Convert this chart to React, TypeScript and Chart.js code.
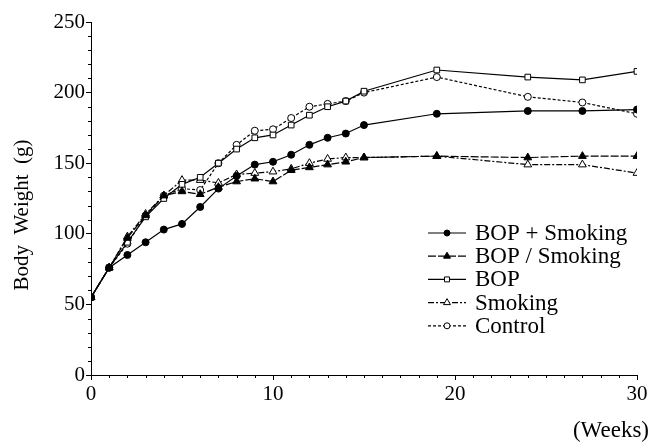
import React, { useEffect, useRef } from 'react';
import { Chart, registerables } from 'chart.js';
import { drawPoint } from 'chart.js/helpers';

Chart.register(...registerables);

// ---- data ----
const weeks = [0, 1, 2, 3, 4, 5, 6, 7, 8, 9, 10, 11, 12, 13, 14, 15, 19, 24, 27, 30];
const bopPlusSmoking = [55, 76, 85, 94, 103, 107, 119, 132, 141, 149, 151, 156, 163, 168, 171, 177, 185, 187, 187, 188];
const bopSlashSmoking = [55, 76, 97, 113, 127, 130, 128, 133, 137, 139, 137, 145, 147, 149, 151, 154, 155, 154, 155, 155];
const bopOnly = [55, 76, 94, 112, 125, 135, 140, 150, 160, 168, 170, 177, 184, 190, 194, 201, 216, 211, 209, 215];
const smokingOnly = [55, 76, 98, 114, 127, 138, 138, 136, 142, 143, 144, 146, 150, 153, 154, 154, 155, 149, 149, 143];
const control = [55, 76, 93, 113, 127, 132, 131, 150, 163, 173, 174, 182, 190, 192, 194, 200, 211, 197, 193, 185];

const seriesNames = ['BOP + Smoking', 'BOP / Smoking', 'BOP', 'Smoking', 'Control'];
const seriesValues = [bopPlusSmoking, bopSlashSmoking, bopOnly, smokingOnly, control];

const xTickValues = [0, 10, 20, 30];
const yTickValues = [0, 50, 100, 150, 200, 250];
const xTitle = '(Weeks)';
const yTitle = 'Body  Weight  (g)';

// ---- styles ----
const FONT = "'Liberation Serif', 'Times New Roman', Times, serif";
const FONT_SIZE = 21;
const LEGEND_FONT_SIZE = 23;
const XTITLE_FONT_SIZE = 23;
const pointStyles = ['circle', 'triangle', 'rect', 'triangle', 'circle'];
const pointFills = ['#000', '#000', '#fff', '#fff', '#fff'];
const pointRadii = [3.5, 4.5, 4, 4.5, 3.5];
const dashes = [[], [8, 2], [], [6, 2, 2, 2], [3, 2]];

const decorPlugin = {
  id: 'decor',
  afterDraw(chart: any) {
    const { ctx, chartArea } = chart;
    const x = chart.scales.x;
    const y = chart.scales.y;
    ctx.save();
    ctx.strokeStyle = '#000';
    ctx.lineWidth = 1;
    // minor ticks
    for (let w = 0; w <= 30; w++) {
      if (w % 10 === 0) continue;
      const px = Math.round(x.getPixelForValue(w)) + 0.5;
      ctx.beginPath();
      ctx.moveTo(px, chartArea.bottom);
      ctx.lineTo(px, chartArea.bottom + 3);
      ctx.stroke();
    }
    for (let g = 0; g <= 250; g += 10) {
      if (g % 50 === 0) continue;
      const py = Math.round(y.getPixelForValue(g)) + 0.5;
      ctx.beginPath();
      ctx.moveTo(chartArea.left, py);
      ctx.lineTo(chartArea.left - 3, py);
      ctx.stroke();
    }
    // axis titles
    ctx.fillStyle = '#000';
    ctx.font = `${XTITLE_FONT_SIZE}px ${FONT}`;
    ctx.textAlign = 'right';
    ctx.textBaseline = 'middle';
    ctx.fillText(xTitle, 649, 431);
    ctx.font = `${FONT_SIZE}px ${FONT}`;
    ctx.save();
    ctx.translate(22, 215);
    ctx.rotate(-Math.PI / 2);
    ctx.textAlign = 'center';
    ctx.fillText(yTitle, 0, 0);
    ctx.restore();
    // legend
    const rowY0 = 233;
    const rowGap = 23.2;
    ctx.font = `${LEGEND_FONT_SIZE}px ${FONT}`;
    seriesNames.forEach((name, i) => {
      const ry = rowY0 + i * rowGap;
      ctx.setLineDash(dashes[i]);
      ctx.lineWidth = 1.2;
      ctx.strokeStyle = '#000';
      ctx.beginPath();
      ctx.moveTo(428, ry);
      ctx.lineTo(466, ry);
      ctx.stroke();
      ctx.setLineDash([]);
      ctx.fillStyle = pointFills[i];
      ctx.lineWidth = 1;
      drawPoint(ctx, { pointStyle: pointStyles[i], radius: pointRadii[i] - 0.5, rotation: 0, borderWidth: 1 }, 447, ry);
      ctx.fillStyle = '#000';
      ctx.textAlign = 'left';
      ctx.textBaseline = 'middle';
      ctx.fillText(name, 475, ry + 1);
    });
    ctx.restore();
  },
};

export default function App() {
  const canvasRef = useRef<HTMLCanvasElement>(null);

  useEffect(() => {
    const canvas = canvasRef.current;
    if (!canvas) return;
    const datasets = seriesNames.map((name, i) => ({
      label: name,
      data: weeks.map((w, k) => ({ x: w, y: seriesValues[i][k] })),
      borderColor: '#000',
      borderWidth: 1.2,
      borderDash: dashes[i],
      pointStyle: pointStyles[i],
      pointRadius: pointRadii[i],
      pointBackgroundColor: pointFills[i],
      pointBorderColor: '#000',
      pointBorderWidth: 1,
      fill: false,
      tension: 0,
    }));
    const chart = new Chart(canvas, {
      type: 'line',
      data: { datasets },
      plugins: [decorPlugin],
      options: {
        animation: false,
        responsive: false,
        devicePixelRatio: 1,
        layout: { padding: { top: 22, right: 19, left: 0, bottom: 0 } },
        plugins: { legend: { display: false }, tooltip: { enabled: false } },
        scales: {
          x: {
            type: 'linear',
            min: 0,
            max: 30,
            afterBuildTicks: (s: any) => { s.ticks = xTickValues.map((v) => ({ value: v })); },
            afterFit: (s: any) => { s.height = 71; },
            ticks: { color: '#000', font: { family: FONT, size: FONT_SIZE }, padding: 2, maxRotation: 0 },
            grid: { display: true, drawOnChartArea: false, drawTicks: true, tickLength: 5, color: '#000' },
            border: { display: true, color: '#000', width: 1 },
          },
          y: {
            type: 'linear',
            min: 0,
            max: 250,
            afterBuildTicks: (s: any) => { s.ticks = yTickValues.map((v) => ({ value: v })); },
            afterFit: (s: any) => { s.width = 91; },
            ticks: { color: '#000', font: { family: FONT, size: FONT_SIZE }, padding: 1 },
            grid: { display: true, drawOnChartArea: false, drawTicks: true, tickLength: 5, color: '#000' },
            border: { display: true, color: '#000', width: 1 },
          },
        },
      },
    });
    return () => chart.destroy();
  }, []);

  return (
    <div style={{ position: 'fixed', left: 0, top: 0, width: 656, height: 446, background: '#fff' }}>
      <canvas ref={canvasRef} width={656} height={446} style={{ display: 'block' }} />
    </div>
  );
}
